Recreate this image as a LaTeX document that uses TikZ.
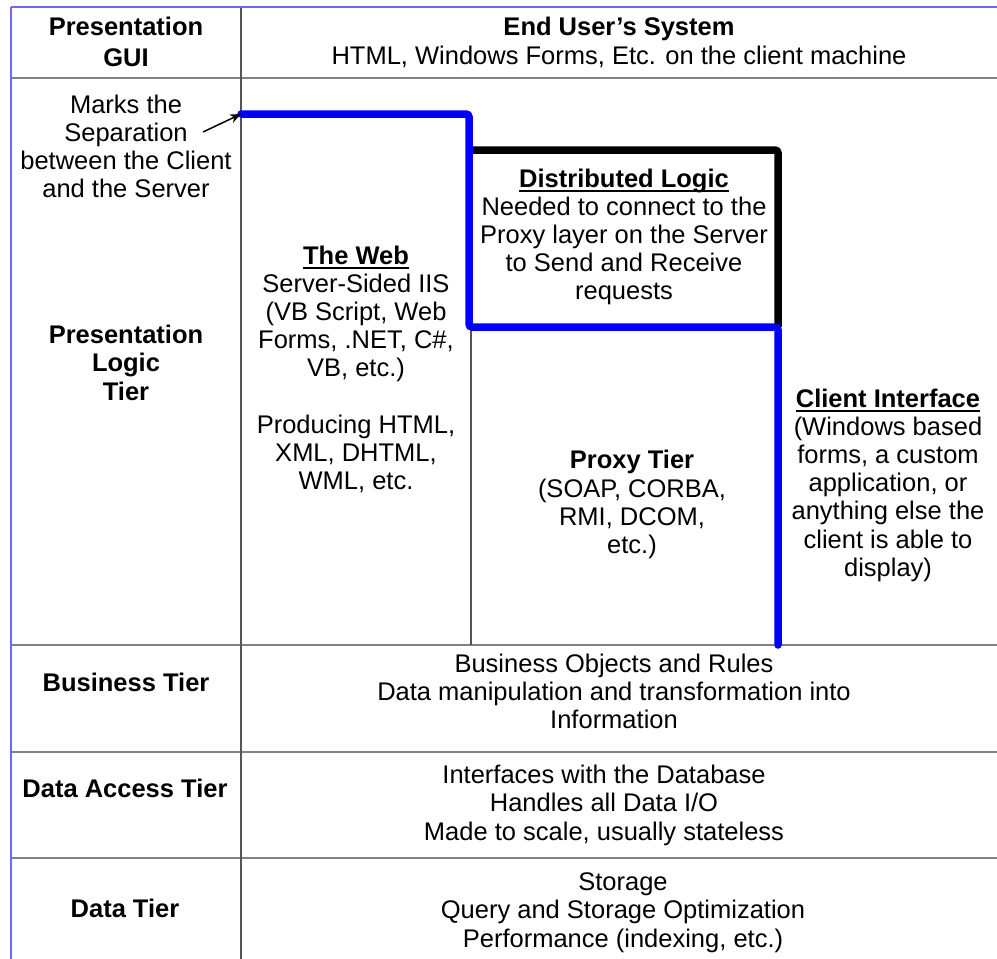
\documentclass[tikz,border=0pt]{standalone}
\usepackage{fontspec}
\setmainfont{Liberation Sans}
\usetikzlibrary{arrows.meta}
\definecolor{gridgray}{RGB}{130,130,130}
\definecolor{divgray}{RGB}{85,85,85}
\definecolor{bordblue}{RGB}{105,105,255}
\definecolor{sepblue}{RGB}{0,0,255}
\newcommand\ulbox[1]{\setbox0=\hbox{#1}\rlap{\rule[-2.25pt]{\wd0}{0.9pt}}\box0}
% #1 style, #2 name prefix, #3 x, #4 first baseline y, #5 line step, #6 lines
\newcommand\tlines[6]{\foreach \s [count=\i] in {#6} {\node[#1] (#2\i) at (#3,{#4+(\i-1)*#5}) {\s};}}
\begin{document}
\begin{tikzpicture}[x=0.5pt,y=-0.5pt,
  txt/.style={anchor=base, inner sep=0pt, font=\fontsize{12.75pt}{14pt}\selectfont},
  btxt/.style={anchor=base, inner sep=0pt, font=\fontsize{12.75pt}{14pt}\selectfont\bfseries},
  hline/.style={draw=gridgray, line width=1.25pt},
  vline/.style={draw=divgray, line width=0.75pt},
  border/.style={draw=bordblue, line width=0.75pt},
  sepline/.style={draw=sepblue, line width=3.75pt, rounded corners=1.5pt, line cap=round},
  boxline/.style={draw=black, line width=3.75pt, rounded corners=1.5pt},
  pointer/.style={draw=black, line width=0.75pt, -{Stealth[length=5.5pt,width=4.5pt]}}]
\fill[white] (0,0) rectangle (997,959);
\useasboundingbox (0,0) rectangle (997,959);
% table grid
\draw[hline] (11,78) -- (997,78);
\draw[hline] (11,645) -- (997,645);
\draw[hline] (11,752) -- (997,752);
\draw[hline] (11,858) -- (997,858);
\draw[vline] (241,7) -- (241,959);
\draw[draw=divgray, line width=0.6pt] (471,327) -- (471,645);
\draw[border] (11,7) -- (997,7);
\draw[border] (11,7) -- (11,959);
% distributed logic box and client/server separation
\draw[boxline] (471,150) -- (778,150) -- (778,327);
\coordinate (sepStart) at (241,114);
\coordinate (arrTail) at (203,132);
\draw[sepline] (sepStart) -- (469,114) -- (469,327) -- (778,327) -- (778,645);
\draw[pointer] (arrTail) -- (sepStart);
% header row
\node[btxt] (gui1) at (126,35) {Presentation};
\node[btxt] (gui2) at (126,66) {GUI};
\node[btxt] (eus) at (619,35) {End User’s System};
\node[txt] (eusd) at (619,64) {HTML, Windows Forms, Etc. on the client machine};
% presentation logic tier
\tlines{txt}{marks}{126}{113}{28}{Marks the, Separation, between the Client, and the Server}
\tlines{btxt}{plt}{126}{343}{28.5}{Presentation, Logic, Tier}
\node[btxt] (web) at (356,264) {\ulbox{The Web}};
\tlines{txt}{weba}{356}{292}{28.3}{{Server-Sided IIS}, {(VB Script, Web}, {Forms, .NET, C\#,}, {VB, etc.)}}
\tlines{txt}{webb}{356}{433}{28.3}{{Producing HTML,}, {XML, DHTML,}, {WML, etc.}}
\node[btxt] (dl) at (624,187) {\ulbox{Distributed Logic}};
\tlines{txt}{dla}{624}{215}{28}{{Needed to connect to the}, {Proxy layer on the Server}, {to Send and Receive}, {requests}}
\node[btxt] (proxy) at (632,468) {Proxy Tier};
\tlines{txt}{proxya}{632}{497}{28}{{(SOAP, CORBA,}, {RMI, DCOM,}, {etc.)}}
\node[btxt] (ci) at (888,407) {\ulbox{Client Interface}};
\tlines{txt}{cia}{888}{435}{28.3}{{(Windows based}, {forms, a custom}, {application, or}, {anything else the}, {client is able to}, {display)}}
% business tier
\node[btxt] (bt) at (126,691) {Business Tier};
\tlines{txt}{bta}{614}{672}{28}{{Business Objects and Rules}, {Data manipulation and transformation into}, {Information}}
% data access tier
\node[btxt] (dat) at (125,797) {Data Access Tier};
\tlines{txt}{data}{604}{783}{28.5}{{Interfaces with the Database}, {Handles all Data I/O}, {Made to scale, usually stateless}}
% data tier
\node[btxt] (dt) at (125,917) {Data Tier};
\tlines{txt}{dta}{623}{890}{28.5}{{Storage}, {Query and Storage Optimization}, {Performance (indexing, etc.)}}
\end{tikzpicture}
\end{document}
